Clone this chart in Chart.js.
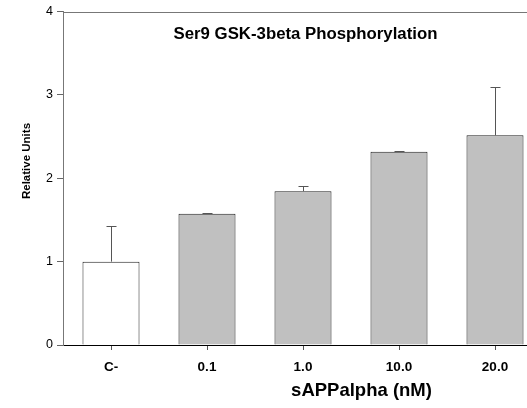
<!DOCTYPE html>
<html><head><meta charset="utf-8">
<script src="https://cdn.jsdelivr.net/npm/chart.js@4/dist/chart.umd.min.js"></script>
<style>html,body{margin:0;padding:0;background:#fff}#wrap{width:527px;height:408px}</style>
</head><body><div id="wrap"><canvas id="c" width="527" height="408"></canvas></div>
<script>
const categories = ["C-", "0.1", "1.0", "10.0", "20.0"];
const values = [1.0, 1.575, 1.845, 2.318, 2.515];
const errors = [0.425, 0.012, 0.06, 0.004, 0.575];
const barColors = ["#ffffff", "#c0c0c0", "#c0c0c0", "#c0c0c0", "#c0c0c0"];
const yTicks = [0, 1, 2, 3, 4];
const chartTitle = "Ser9 GSK-3beta Phosphorylation";
const xTitle = "sAPPalpha (nM)";
const yTitle = "Relative Units";

const FONT = "'Liberation Sans', Arial, sans-serif";
const PLOT_RIGHT = 543; // plot frame extends past the canvas edge

const extras = {
  id: 'extras',
  afterLayout(chart) {
    const x = chart.scales.x;
    x.right = PLOT_RIGHT;
    x.width = x.right - x.left;
    x.configure();
    chart.chartArea.right = PLOT_RIGHT;
    chart.chartArea.width = PLOT_RIGHT - chart.chartArea.left;
  },
  afterDatasetsDraw(chart) {
    const ctx = chart.ctx, x = chart.scales.x, y = chart.scales.y, a = chart.chartArea;
    ctx.save();
    ctx.strokeStyle = '#555';
    ctx.lineWidth = 1;
    values.forEach((v, i) => {
      const px = Math.round(x.getPixelForValue(i)) + 0.5;
      const y0 = y.getPixelForValue(v);
      const y1 = Math.round(y.getPixelForValue(v + errors[i])) + 0.5;
      ctx.beginPath();
      ctx.moveTo(px, y0); ctx.lineTo(px, y1);
      ctx.moveTo(px - 5, y1); ctx.lineTo(px + 5, y1);
      ctx.stroke();
    });
    ctx.strokeStyle = '#777';
    ctx.beginPath();
    ctx.moveTo(a.left, Math.round(a.top) + 0.5); ctx.lineTo(chart.width, Math.round(a.top) + 0.5);
    ctx.stroke();
    ctx.fillStyle = '#000';
    ctx.textAlign = 'center';
    ctx.textBaseline = 'middle';
    ctx.font = "bold 16.8px " + FONT;
    ctx.fillText(chartTitle, 305.5, 34);
    ctx.font = "bold 18.5px " + FONT;
    ctx.fillText(xTitle, 361.5, 391);
    ctx.translate(27, 161);
    ctx.rotate(-Math.PI / 2);
    ctx.font = "bold 11.5px " + FONT;
    ctx.fillText(yTitle, 0, 0);
    ctx.restore();
  }
};

new Chart(document.getElementById('c'), {
  type: 'bar',
  data: {
    labels: categories,
    datasets: [{
      data: values,
      backgroundColor: barColors,
      borderColor: '#222',
      borderWidth: 1,
      borderSkipped: 'bottom',
      categoryPercentage: 1,
      barPercentage: 0.594
    }]
  },
  options: {
    responsive: false,
    animation: false,
    devicePixelRatio: 1,
    layout: { padding: { top: 10, right: 0, left: 0, bottom: 0 } },
    plugins: { legend: { display: false }, tooltip: { enabled: false }, title: { display: false } },
    scales: {
      x: {
        offset: true,
        grid: { display: true, drawOnChartArea: false, tickLength: 5, color: '#555', offset: false },
        border: { display: true, color: '#000', width: 1 },
        ticks: { font: { family: FONT, size: 13.5, weight: 'bold' }, color: '#000', padding: 9, maxRotation: 0 },
        afterFit(s) { s.height = 63; }
      },
      y: {
        min: 0, max: 4,
        afterBuildTicks(s) { s.ticks = yTicks.map(v => ({ value: v })); },
        grid: { display: true, drawOnChartArea: false, tickLength: 6, color: '#666' },
        border: { display: true, color: '#777', width: 1 },
        ticks: { font: { family: FONT, size: 12.5 }, color: '#000', padding: 4 },
        afterFit(s) { s.width = 63; }
      }
    }
  },
  plugins: [extras]
});
</script></body></html>
